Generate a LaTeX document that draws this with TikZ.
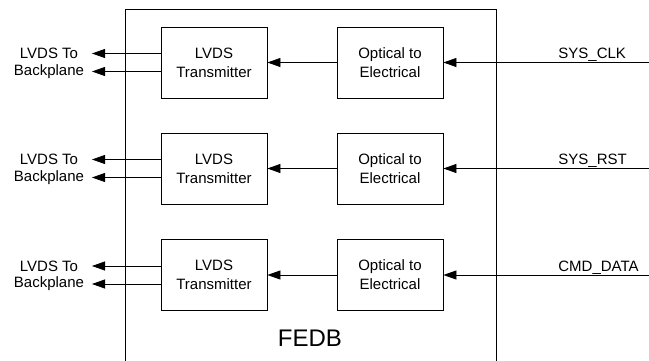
\documentclass[tikz,border=0pt]{standalone}
\usepackage{fontspec}
\setmainfont{Liberation Sans}
\usetikzlibrary{arrows.meta, positioning}

\begin{document}
\begin{tikzpicture}[x=1pt, y=-1pt, line width=0.8pt,
  blk/.style={draw, minimum width=106pt, minimum height=71pt, align=center,
    inner sep=0pt, font=\fontsize{15}{19}\selectfont},
  sig/.style={-{Triangle[length=13pt, width=9pt]}},
  lbl/.style={inner sep=0pt, font=\fontsize{15}{19}\selectfont},
]
  \useasboundingbox (0,0) rectangle (649,361);
  % FEDB enclosure, open at the bottom
  \draw (125,361) -- (125,9) -- (496,9) -- (496,361);
  \node[font=\fontsize{24}{28}\selectfont] (fedb) at (310,338) {FEDB};
  \foreach \r/\y/\name in {1/62.5/SYS\_CLK, 2/168.5/SYS\_RST, 3/275/CMD\_DATA} {
    \node[blk] (tx\r) at (214,\y) {LVDS\\Transmitter};
    \node[blk] (oe\r) at (390,\y) {Optical to\\Electrical};
    \coordinate (in\r) at (649,\y);
    \coordinate (ta\r) at (92,\y-9);
    \coordinate (tb\r) at (92,\y+9);
    \node[lbl] (la\r) at (49,\y-9) {LVDS To};
    \node[lbl] (lb\r) at (49,\y+9) {Backplane};
    \node[lbl, anchor=base west] (nm\r) at (558,\y-4) {\name};
    \draw[sig] (in\r) -- (oe\r);
    \draw[sig] (oe\r) -- (tx\r);
    \draw[sig] (tx\r.west |- ta\r) -- (ta\r);
    \draw[sig] (tx\r.west |- tb\r) -- (tb\r);
  }
\end{tikzpicture}
\end{document}
